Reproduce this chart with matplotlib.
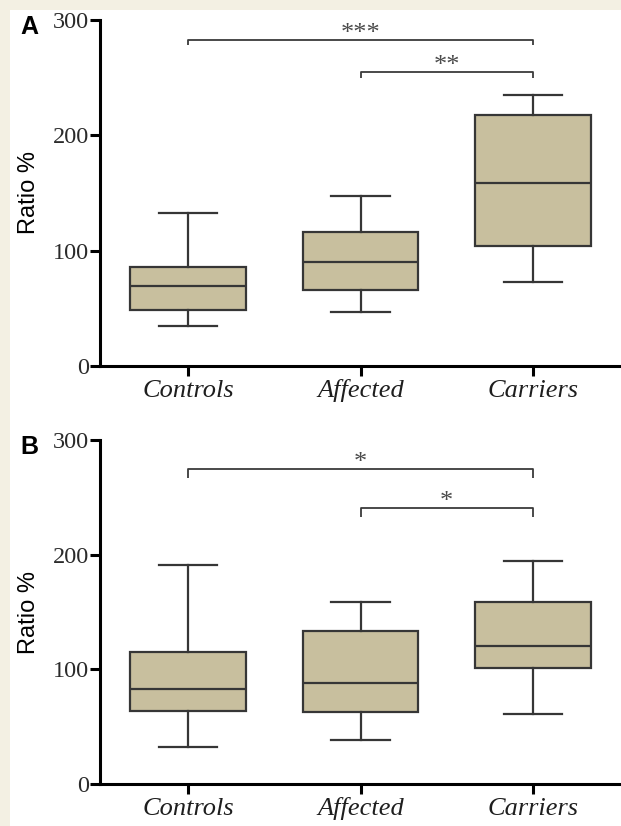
import numpy as np
import matplotlib
matplotlib.use("Agg")
import matplotlib.pyplot as plt
from matplotlib.patches import Rectangle

# Groups on the x axis
groups = ["Controls", "Affected", "Carriers"]

# Panel A box stats
a_whislo = [35, 47, 73]
a_q1 = [48.5, 66, 104]
a_med = [69, 90.5, 159]
a_q3 = [85.5, 116.5, 218]
a_whishi = [133, 147, 235]

# Panel B box stats
b_whislo = [32, 38.5, 61]
b_q1 = [64, 62.5, 101.5]
b_med = [83, 88.5, 120]
b_q3 = [115, 133.5, 158.5]
b_whishi = [191, 159, 194.5]

# Significance brackets: (from group, to group, height, label)
a_sig = [(1, 3, 283, "***"), (2, 3, 255, "**")]
b_sig = [(1, 3, 274.5, "*"), (2, 3, 240.5, "*")]

W, H = 621, 826
beige = "#F3F0E3"
box_fill = "#C8BF9E"
edge = "#363636"


def makeStats(whislo, q1, med, q3, whishi):
    stats = []
    for i in range(len(groups)):
        stats.append({"whislo": whislo[i], "q1": q1[i], "med": med[i],
                      "q3": q3[i], "whishi": whishi[i], "fliers": []})
    return stats


def drawPanel(ax, stats, sig, drop):
    pos = np.arange(1, len(groups) + 1)
    ax.bxp(stats, positions=pos, widths=0.67, capwidths=0.34,
           patch_artist=True, showfliers=False,
           boxprops=dict(facecolor=box_fill, edgecolor=edge, linewidth=1.6),
           medianprops=dict(color=edge, linewidth=1.6),
           whiskerprops=dict(color=edge, linewidth=1.6),
           capprops=dict(color=edge, linewidth=1.6))

    # brackets
    for (g1, g2, y, lab) in sig:
        ax.plot([g1, g1, g2, g2], [y - drop, y, y, y - drop], color="#3a3a3a",
                lw=1.3, solid_capstyle="butt", clip_on=False)
        ax.text((g1 + g2) / 2, y - 4.5, lab, ha="center", va="bottom",
                fontsize=19, color="#4a4a4a", family="Liberation Serif")

    ax.set_xlim(0.49, 3.51)
    ax.set_ylim(0, 300)
    ax.set_yticks([0, 100, 200, 300])
    ax.set_xticks(pos)
    ax.set_xticklabels(groups, fontsize=19, style="italic",
                       family="Liberation Serif", color="#1e1e1e")
    # same baseline for all group names
    for t in ax.get_xticklabels():
        t.set_va("baseline")
    for t in ax.get_yticklabels():
        t.set_family("Liberation Serif")
        t.set_fontsize(17.5)
        t.set_color("#2a2a2a")
    ax.tick_params(axis="both", direction="out", length=7, width=2.2, color="black")
    ax.tick_params(axis="y", pad=1)
    ax.tick_params(axis="x", pad=15)
    for s in ["top", "right"]:
        ax.spines[s].set_visible(False)
    for s in ["left", "bottom"]:
        ax.spines[s].set_linewidth(2.2)
        ax.spines[s].set_color("black")
    ax.set_ylabel("Ratio %", fontsize=17, family="Liberation Sans", labelpad=9)
    ax.patch.set_alpha(0)


fig = plt.figure(figsize=(W / 100, H / 100), dpi=100, facecolor=beige)
# white panel over the beige page
fig.patches.append(Rectangle((10 / W, 0), 1, 1 - 10 / H, transform=fig.transFigure,
                             facecolor="white", edgecolor="none", zorder=-10))

axA = fig.add_axes([100 / W, 1 - 366 / H, 1 - 100 / W, 346 / H])
axB = fig.add_axes([100 / W, 1 - 784 / H, 1 - 100 / W, 344 / H])

drawPanel(axA, makeStats(a_whislo, a_q1, a_med, a_q3, a_whishi), a_sig, 5)
drawPanel(axB, makeStats(b_whislo, b_q1, b_med, b_q3, b_whishi), b_sig, 8)

fig.text(20 / W, 1 - 34 / H, "A", fontsize=18, fontweight="bold", family="Liberation Sans")
fig.text(20 / W, 1 - 454 / H, "B", fontsize=18, fontweight="bold", family="Liberation Sans")

fig.savefig("out.png", dpi=100, facecolor=beige)
